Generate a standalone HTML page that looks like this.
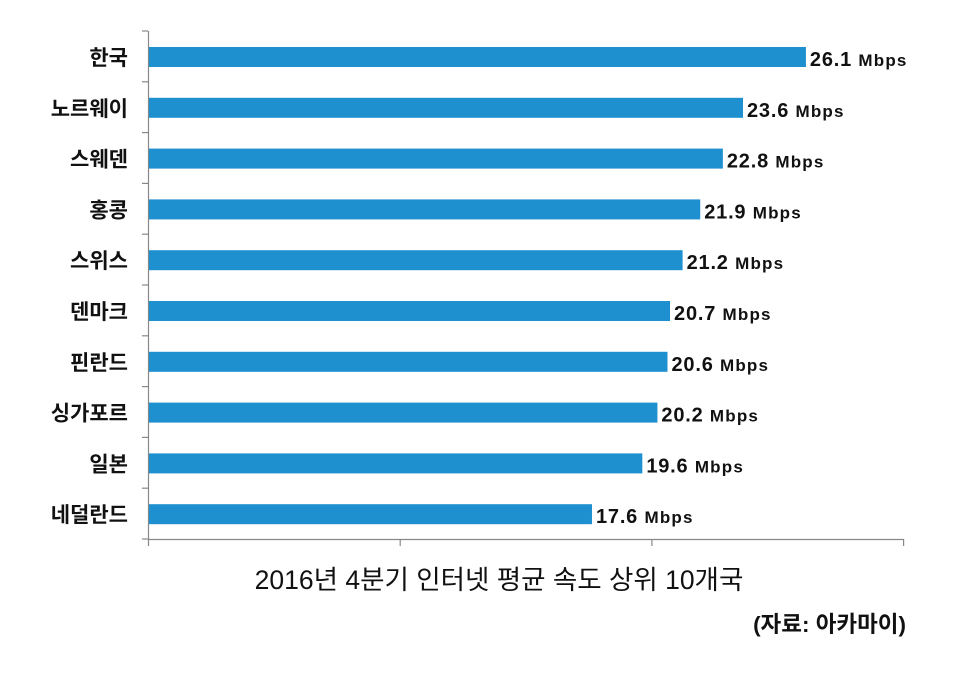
<!DOCTYPE html>
<html><head><meta charset="utf-8"><style>
body{margin:0;width:960px;height:668px;background:#fff;overflow:hidden}
svg text{font-family:"Liberation Sans","Noto Sans CJK KR",sans-serif}
</style></head><body>
<svg width="960" height="668" xmlns="http://www.w3.org/2000/svg">
<g stroke="#888" stroke-width="1.2">
<line x1="148.5" y1="31" x2="148.5" y2="539"/>
<line x1="148" y1="539.5" x2="904" y2="539.5"/>
<g id="t"></g>
</g>
<g id="b"></g>
<text x="499" y="589" font-size="26.5" text-anchor="middle" fill="#111">2016년 4분기 인터넷 평균 속도 상위 10개국</text>
<text x="906" y="632" font-size="22.5" font-weight="bold" text-anchor="end" fill="#111">(자료: 아카마이)</text>
<script>
var d=[["한국",26.1],["노르웨이",23.6],["스웨덴",22.8],["홍콩",21.9],["스위스",21.2],["덴마크",20.7],["핀란드",20.6],["싱가포르",20.2],["일본",19.6],["네덜란드",17.6]];
var ns="http://www.w3.org/2000/svg",b=document.getElementById("b"),t=document.getElementById("t");
function el(n,a,p,txt){var e=document.createElementNS(ns,n);for(var k in a)e.setAttribute(k,a[k]);if(txt)e.textContent=txt;p.appendChild(e);return e;}
for(var i=0;i<=10;i++){var y=31+i*50.8;el("line",{x1:142,x2:148,y1:y,y2:y},t);}
for(var j=0;j<4;j++){var x=148.5+j*251.7;el("line",{x1:x,x2:x,y1:539,y2:546},t);}
d.forEach(function(r,i){var top=47+i*50.8,w=r[1]*25.17;
el("rect",{x:149,y:top,width:w,height:20,fill:"#1e90d0"},b);
el("text",{x:128,y:top+18,"font-size":21,"font-weight":"bold","text-anchor":"end",fill:"#111"},b,r[0]);
var tx=el("text",{x:149+w+4,y:top+19,"font-weight":"bold",fill:"#111","font-size":20,"letter-spacing":"0.8"},b);
tx.textContent=r[1].toFixed(1)+" ";var s=el("tspan",{"font-size":17,"letter-spacing":"1.2"},tx,"Mbps");
});
</script>
</svg>
</body></html>
